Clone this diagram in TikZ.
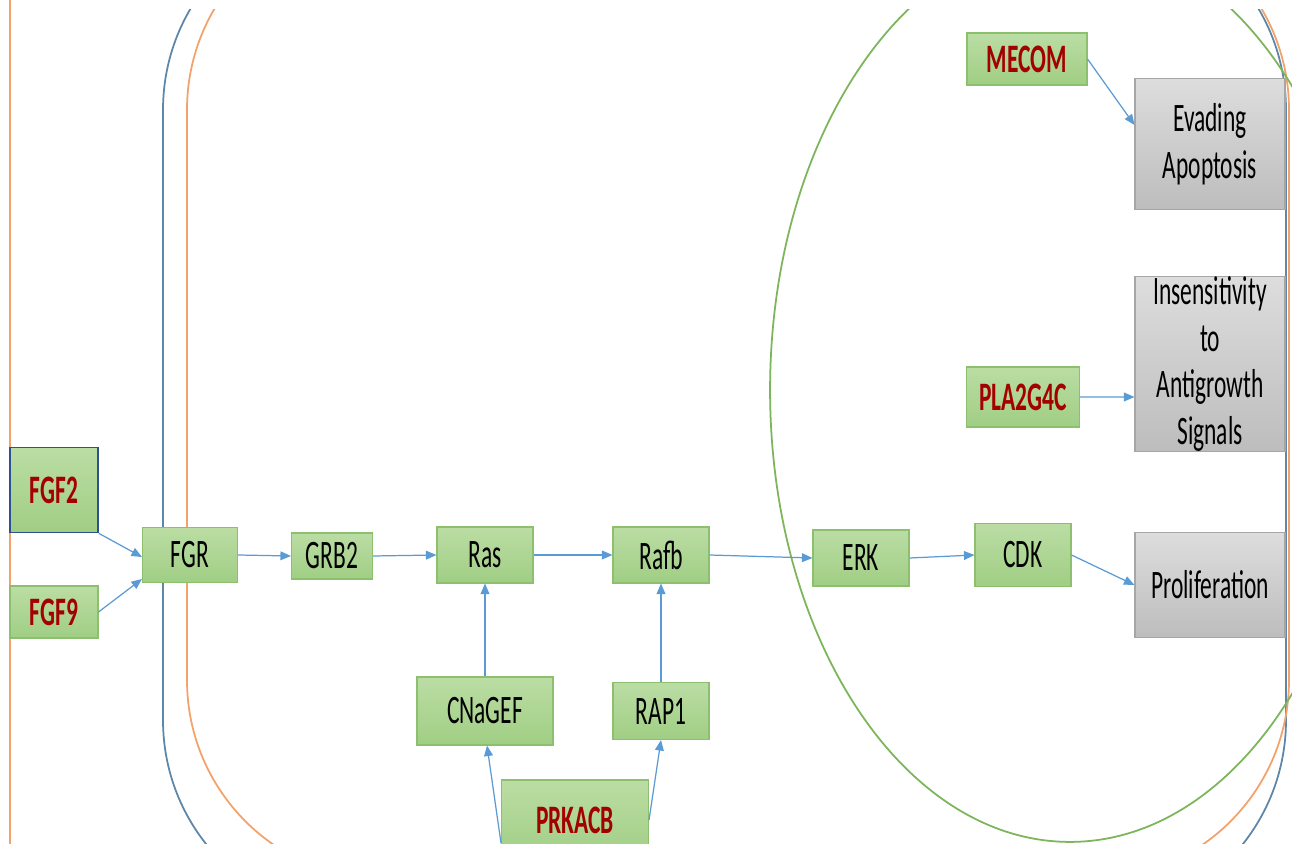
\documentclass[tikz,border=0pt]{standalone}
\usepackage{fontspec}
\setmainfont{Carlito}[FakeStretch=0.58]
\usetikzlibrary{arrows.meta,positioning}
\definecolor{cellblue}{HTML}{5E86A8}
\definecolor{cellorange}{HTML}{F2A36B}
\definecolor{nucgreen}{HTML}{7CB55A}
\definecolor{arrowblue}{HTML}{5B9BD5}
\definecolor{boxtop}{HTML}{BBDDA4}
\definecolor{boxbot}{HTML}{A0CE84}
\definecolor{boxedge}{HTML}{8CC06E}
\definecolor{graytop}{HTML}{DDDDDD}
\definecolor{graybot}{HTML}{BDBDBD}
\definecolor{grayedge}{HTML}{A6A6A6}
\definecolor{genered}{HTML}{A30000}
\definecolor{pickblue}{HTML}{2F528F}
\begin{document}
\begin{tikzpicture}[x=0.02cm,y=-0.02cm,>={Triangle[length=6pt,width=5pt]},
  gene node/.style={draw=boxedge,line width=0.6pt,top color=boxtop,bottom color=boxbot,font=\fontsize{23}{27}\selectfont,inner sep=0pt},
  hit node/.style={gene node,font=\fontsize{23}{27}\selectfont\bfseries,text=genered},
  hall node/.style={draw=grayedge,line width=0.6pt,top color=graytop,bottom color=graybot,font=\fontsize{23}{26.5}\selectfont,align=center,inner sep=0pt,minimum width=3cm},
  link/.style={->,color=arrowblue,line width=0.7pt}]
  \useasboundingbox[fill=white] (0,0) rectangle (1292,844);

  % membranes and nucleus
  \draw[cellorange,line width=1pt] (10,0) -- (10,844);
  \begin{scope}
    \clip (10,10) rectangle (1292,844);
    \draw[cellblue,line width=1pt,rounded corners=4cm] (163,-90) rectangle (1286,920);
    \draw[cellorange,line width=1pt,rounded corners=4cm] (187,-90) rectangle (1289,880);
    \draw[nucgreen,line width=1pt] (1070,390) ellipse [x radius=6cm,y radius=9.04cm];
  \end{scope}

  % genes
  \node[hit node,draw=pickblue,line width=1pt,minimum width=1.76cm,minimum height=1.7cm] (FGF2) at (54,490) {FGF2};
  \node[hit node,minimum width=1.76cm,minimum height=1.04cm] (FGF9) at (54,612) {FGF9};
  \node[gene node,minimum width=1.9cm,minimum height=1.1cm] (FGR) at (190,555) {FGR};
  \node[gene node,minimum width=1.62cm,minimum height=0.92cm] (GRB2) at (332,556) {GRB2};
  \node[gene node,minimum width=1.92cm,minimum height=1.12cm] (Ras) at (485,555) {Ras};
  \node[gene node,minimum width=1.92cm,minimum height=1.12cm] (Rafb) at (661,555) {Rafb};
  \node[gene node,minimum width=1.92cm,minimum height=1.12cm] (ERK) at (861,558) {ERK};
  \node[gene node,minimum width=1.92cm,minimum height=1.26cm] (CDK) at (1023,555) {CDK};
  \node[gene node,minimum width=2.72cm,minimum height=1.36cm] (CNaGEF) at (485,711) {CNaGEF};
  \node[gene node,minimum width=1.92cm,minimum height=1.14cm] (RAP1) at (661,711) {RAP1};
  \node[hit node,minimum width=2.94cm,minimum height=1.6cm] (PRKACB) at (575,820) {PRKACB};
  \node[hit node,minimum width=2.4cm,minimum height=1.04cm] (MECOM) at (1027,59) {MECOM};
  \node[hit node,minimum width=2.26cm,minimum height=1.2cm] (PLA2G4C) at (1023,397) {PLA2G4C};

  % hallmarks
  \node[hall node,minimum height=2.62cm] (Evading) at (1210,144) {Evading\\Apoptosis};
  \node[hall node,minimum height=3.44cm] (Insens) at (1210,364) {Insensitivity\\to\\Antigrowth\\Signals};
  \node[hall node,minimum height=2.1cm] (Prolif) at (1210,585) {Proliferation};

  \path[link]
    (FGF2.south east) edge ([yshift=-0.04cm]FGR.west)
    (FGF9.east) edge ([yshift=-0.48cm]FGR.west)
    (FGR.east) edge (GRB2.west)
    (GRB2.east) edge (Ras.west)
    (Ras.east) edge (Rafb.west)
    (Rafb.east) edge (ERK.west)
    (ERK.east) edge (CDK.west)
    (CDK.east) edge (Prolif.west)
    (CNaGEF.north) edge (Ras.south)
    (RAP1.north) edge (Rafb.south)
    ([yshift=-0.46cm]PRKACB.west) edge ([xshift=0.04cm]CNaGEF.south)
    (PRKACB.east) edge (RAP1.south)
    (MECOM.east) edge ([yshift=0.38cm]Evading.west)
    (PLA2G4C.east) edge ([yshift=-0.66cm]Insens.west);
\end{tikzpicture}
\end{document}
